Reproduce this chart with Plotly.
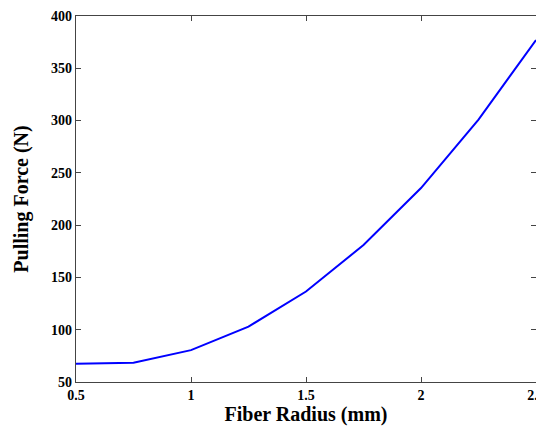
import plotly.graph_objects as go

radius_mm = [0.5, 0.75, 1.0, 1.25, 1.5, 1.75, 2.0, 2.25, 2.5]
force_n = [67.5, 68.5, 80.5, 103, 136.5, 181, 235.5, 301, 377]
x_ticks = [0.5, 1, 1.5, 2, 2.5]
x_tick_text = ["0.5", "1", "1.5", "2", "2.5"]
y_ticks = [50, 100, 150, 200, 250, 300, 350, 400]

fig = go.Figure()
fig.add_trace(go.Scatter(x=radius_mm, y=force_n, mode="lines",
                         line=dict(color="#0000ff", width=2), showlegend=False))

tickfont = dict(family="Liberation Serif", size=14, color="black")
titlefont = dict(family="Liberation Serif", size=20, color="black")

# page body has an 8px margin, so the figure is offset by 8px
fig.update_layout(
    width=544, height=420,
    margin=dict(l=68, r=16, t=8, b=46, autoexpand=False),
    paper_bgcolor="white", plot_bgcolor="white",
    xaxis=dict(range=[0.49999, 2.50001], tickvals=x_ticks, ticktext=["<b>%s</b>" % t for t in x_tick_text],
               ticks="inside", ticklen=5, tickcolor="#444", mirror="ticks", automargin=False,
               ticklabeloverflow="allow",
               showline=True, linecolor="#444", linewidth=1.2, showgrid=False, zeroline=False,
               tickfont=tickfont,
               title=dict(text="<b>Fiber Radius (mm)</b>", font=titlefont, standoff=3)),
    yaxis=dict(range=[50, 400], tickvals=y_ticks, ticktext=["<b>%d</b>" % t for t in y_ticks],
               ticks="inside", ticklen=5, tickcolor="#444", mirror="ticks", automargin=False,
               ticklabeloverflow="allow",
               showline=True, linecolor="#444", linewidth=1.2, showgrid=False, zeroline=False,
               tickfont=tickfont,
               title=dict(text="<b>Pulling Force (N)</b>", font=titlefont, standoff=17)),
)
fig.write_html("out.html")
